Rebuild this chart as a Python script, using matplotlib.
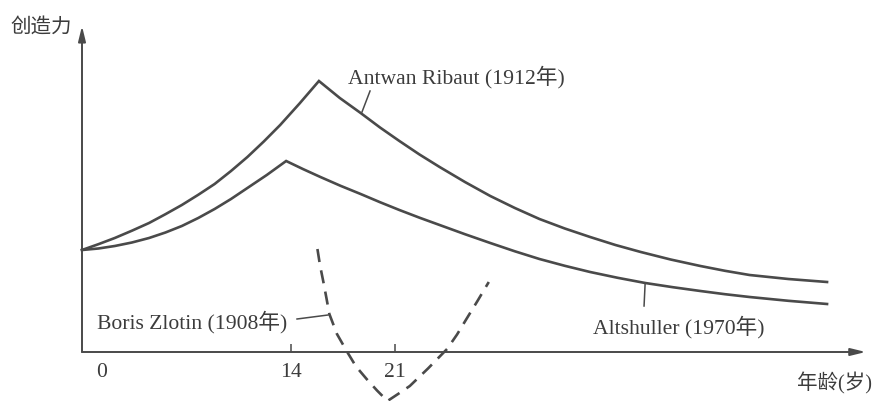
import matplotlib
matplotlib.use("Agg")
import matplotlib.pyplot as plt

plt.rcParams['font.family'] = ['Liberation Serif', 'Noto Sans CJK SC', 'DejaVu Sans']

# ---- data (age in years, creativity in arbitrary units) ----
ribaut_age = [0, 1.1, 2.2, 3.35, 4.5, 5.6, 6.7, 7.8, 8.9, 10.0, 11.1, 12.2, 13.3,
              14.6, 15.9, 17.3, 18.7, 20.0, 21.3, 22.65, 24.0, 25.7, 27.4, 29.05,
              30.7, 32.4, 34.1, 35.8, 37.5, 39.5, 41.5, 43.15, 44.8, 47.4, 50.0]
ribaut_val = [10.2, 10.78, 11.4, 12.13, 12.9, 13.78, 14.7, 15.72, 16.8, 18.1, 19.5,
              21.05, 22.7, 24.85, 27.1, 25.4, 23.9, 22.45, 21.1, 19.75, 18.5, 17.0,
              15.6, 14.4, 13.3, 12.35, 11.5, 10.7, 10.0, 9.25, 8.6, 8.12, 7.7, 7.3, 7.0]

altshuller_age = [0, 1.1, 2.2, 3.35, 4.5, 5.6, 6.7, 7.8, 8.9, 10.0, 11.1, 12.4, 13.7,
                  14.85, 16.0, 17.35, 18.7, 20.0, 21.3, 22.65, 24.0, 25.7, 27.4,
                  29.05, 30.7, 32.4, 34.1, 35.95, 37.8, 39.65, 41.5, 43.15, 44.8,
                  47.4, 50.0]
altshuller_val = [10.2, 10.35, 10.6, 10.95, 11.4, 11.95, 12.6, 13.4, 14.3, 15.3, 16.4,
                  17.7, 19.1, 18.28, 17.5, 16.62, 15.8, 14.98, 14.2, 13.43, 12.7,
                  11.78, 10.9, 10.07, 9.3, 8.62, 8.0, 7.42, 6.9, 6.48, 6.1, 5.78,
                  5.5, 5.12, 4.8]

zlotin_age = [15.8, 15.97, 16.2, 16.41, 16.6, 17.11, 17.8, 18.39, 19.1, 19.8, 20.5,
              21.21, 22.0, 23.22, 24.5, 25.17, 25.8, 26.54, 27.3]
zlotin_val = [10.3, 8.7, 7.0, 5.35, 3.8, 1.8, 0.0, -1.45, -2.7, -3.85, -4.9,
              -4.2, -3.4, -1.65, 0.3, 1.75, 3.3, 5.1, 7.0]

tick_ages = [14, 21]
tick_labels = ['14', '21']
origin_label = '0'

ylabel = '创造力'
xlabel = '年龄(岁)'
label_ribaut = 'Antwan Ribaut (1912年)'
label_altshuller = 'Altshuller (1970年)'
label_zlotin = 'Boris Zlotin (1908年)'

# ---- figure ----
W, H = 878, 402
fig = plt.figure(figsize=(W / 100, H / 100), dpi=100)
ax = fig.add_axes([0, 0, 1, 1])
ax.set_xlim(-5.503, 53.42)
ax.set_ylim(-4.9, 35.3)

LC = '#4a4a4a'
TC = '#3c3c3c'
FS = 15.6

for s in ax.spines.values():
    s.set_visible(False)
ax.spines['bottom'].set_position(('data', 0))
ax.spines['left'].set_position(('data', 0))

ax.set_xticks(tick_ages)
ax.set_xticklabels(tick_labels, fontsize=FS, color=TC)
ax.tick_params(axis='x', direction='in', length=6, width=1.1, color=LC, pad=7)
ax.set_yticks([])

# axes with arrows
arrow = dict(arrowstyle='-|>,head_length=0.9,head_width=0.22', color=LC, lw=1.4,
             shrinkA=0, shrinkB=0, mutation_scale=10)
ax.annotate('', xy=(52.6, 0), xytext=(0, 0), arrowprops=arrow)
ax.annotate('', xy=(0, 32.6), xytext=(0, 0), arrowprops=arrow)

# curves
ax.plot(ribaut_age, ribaut_val, color=LC, lw=1.9, solid_joinstyle='miter')
ax.plot(altshuller_age, altshuller_val, color=LC, lw=1.9, solid_joinstyle='miter')
ax.plot(zlotin_age, zlotin_val, color=LC, lw=1.9, dashes=(5, 3.2))

# labels
ax.text(1.28, -2.0, origin_label, fontsize=FS, color=TC, ha='center', va='center')
ax.text(-2.75, 32.6, ylabel, fontsize=14.8, color=TC, ha='center', va='center',
        family=['Noto Sans CJK SC'])
ax.text(50.47, -3.0, xlabel, fontsize=14.8, color=TC, ha='center', va='center',
        family=['Liberation Serif', 'Noto Sans CJK SC'])

ax.text(17.85, 27.6, label_ribaut, fontsize=FS, color=TC, ha='left', va='center')
ax.plot([19.33, 18.79], [26.1, 24.0], color=LC, lw=1.1)

ax.text(34.3, 2.6, label_altshuller, fontsize=FS, color=TC, ha='left', va='center')
ax.plot([37.79, 37.72], [6.8, 4.6], color=LC, lw=1.1)

ax.text(1.0, 3.1, label_zlotin, fontsize=FS, color=TC, ha='left', va='center')
ax.plot([14.43, 16.51], [3.3, 3.7], color=LC, lw=1.1)

fig.savefig('out.png', dpi=100)
